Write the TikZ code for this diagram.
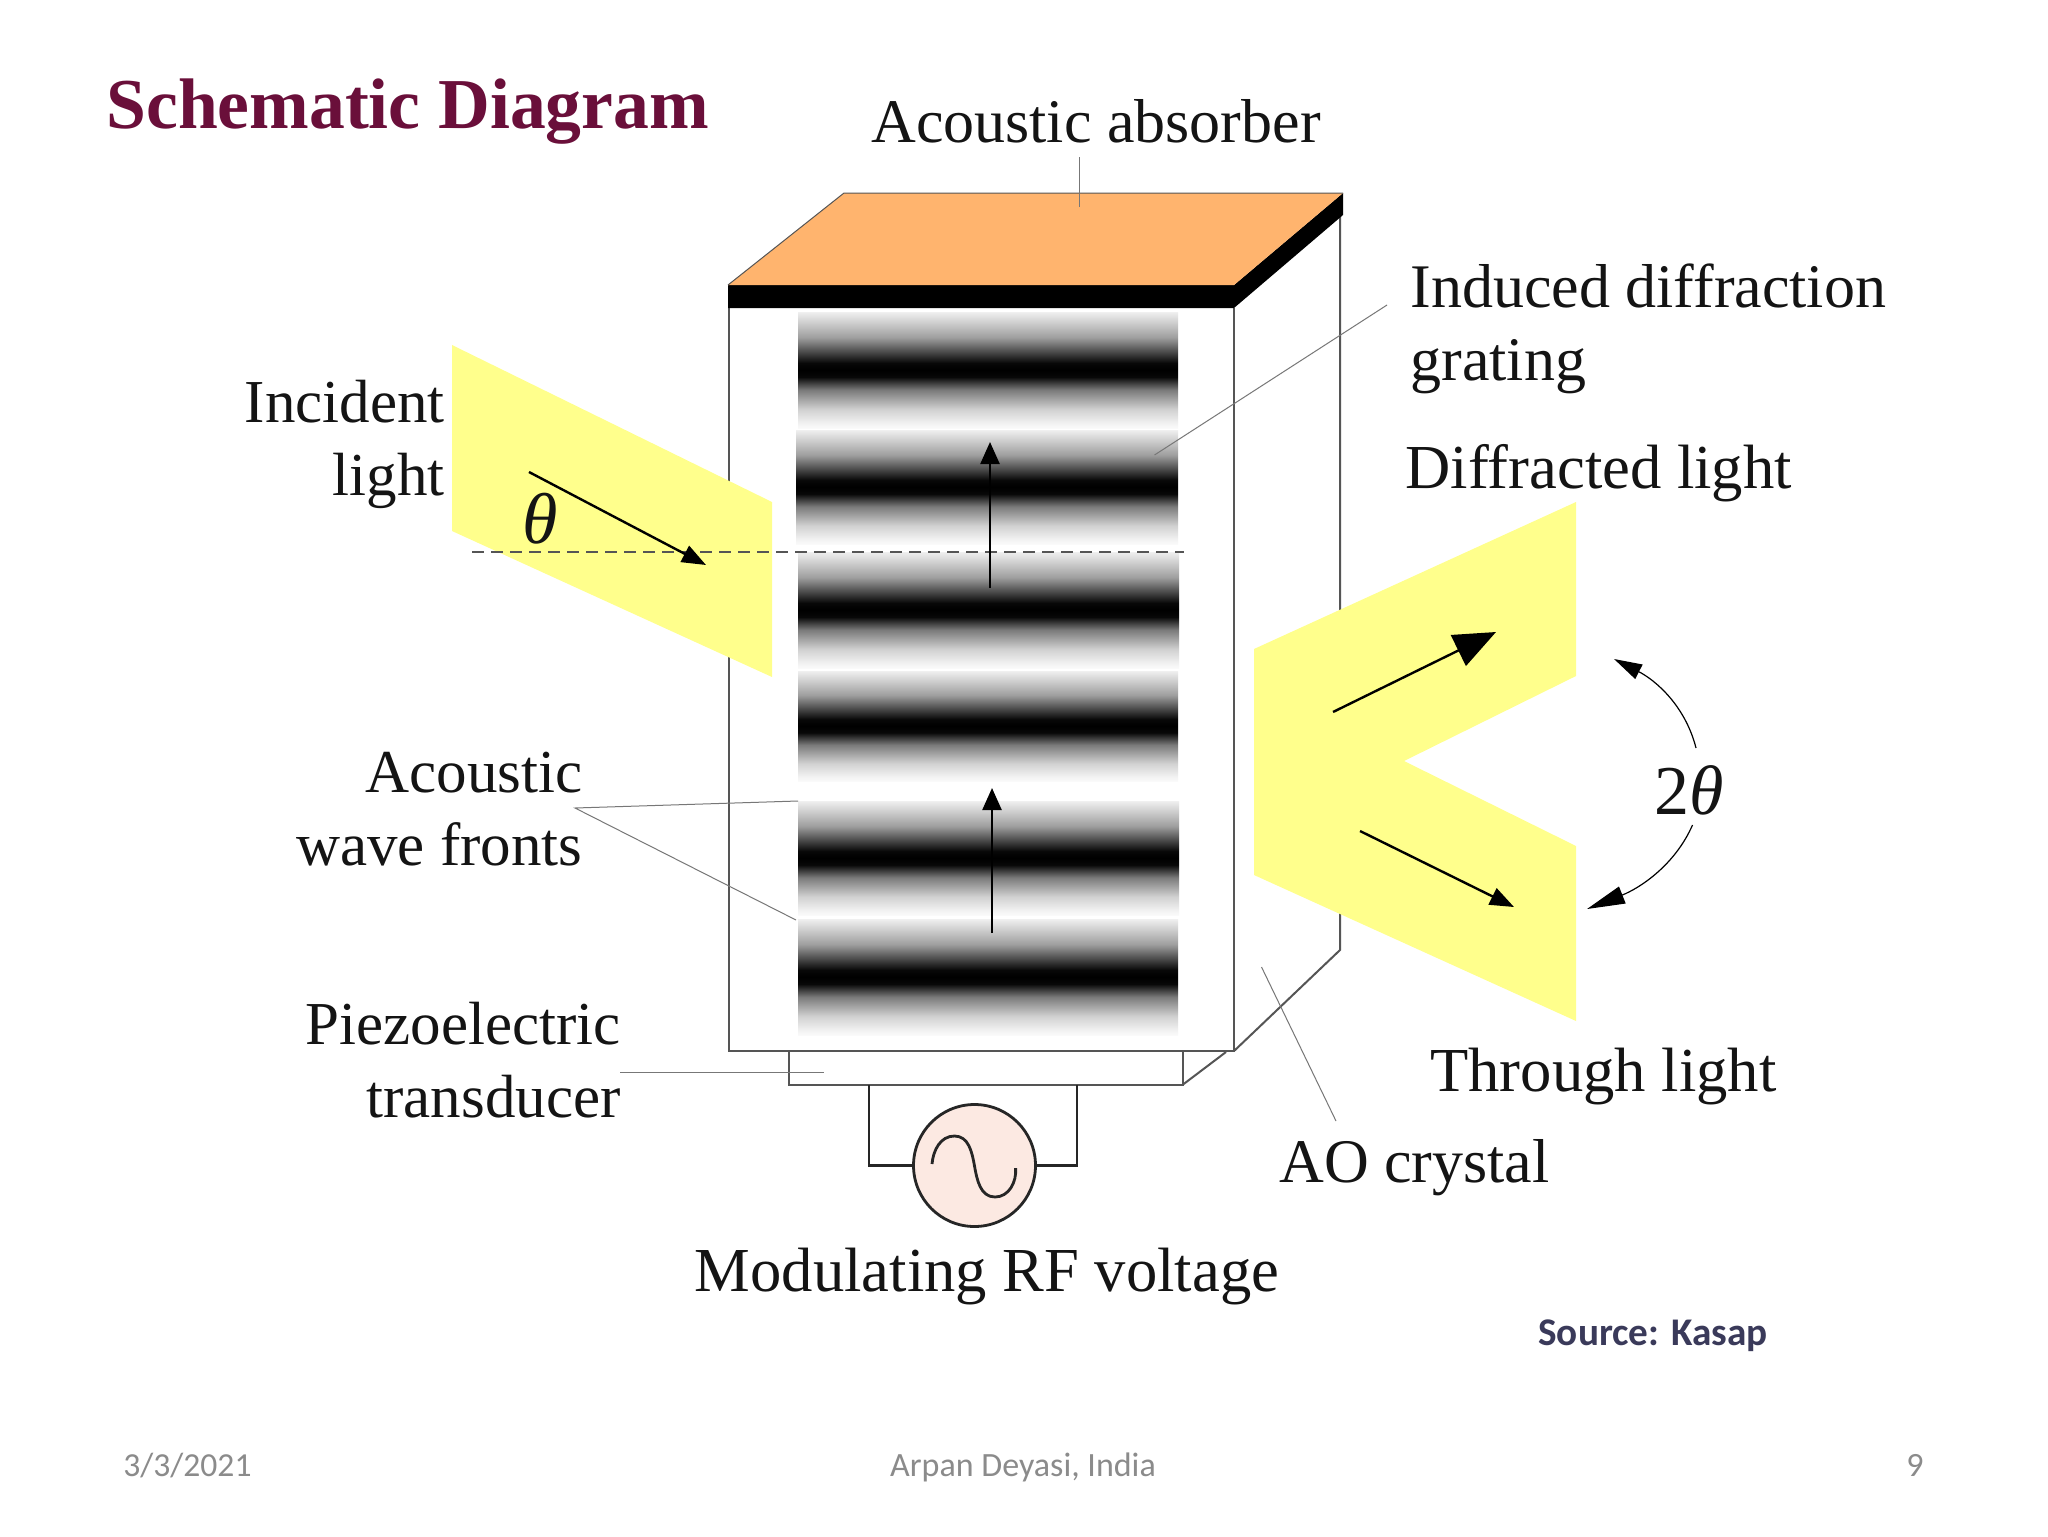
\documentclass[tikz,border=0pt]{standalone}
\usepackage{fontspec}
\setmainfont{Liberation Serif}
\newfontfamily\slidefont{Carlito}
\usetikzlibrary{arrows.meta}
\definecolor{beamyellow}{HTML}{FFFF8C}
\definecolor{absorber}{HTML}{FFB46E}
\definecolor{titlered}{HTML}{6A0F3A}
\definecolor{footgrey}{HTML}{8B8B8B}
\definecolor{sourceblue}{HTML}{3A3A5A}
\definecolor{rfpink}{HTML}{FCE9E2}
\definecolor{edgegrey}{HTML}{555555}
\definecolor{leadgrey}{HTML}{777777}
\pgfdeclareverticalshading{gband}{100bp}{%
 color(0bp)=(white!98!black); color(25bp)=(white!98!black);
 color(27bp)=(white!95!black); color(33bp)=(white!82!black); color(41.4bp)=(white!48!black);
 color(47bp)=(white!3!black); color(50bp)=(black); color(53bp)=(white!3!black);
 color(58.6bp)=(white!33!black); color(64bp)=(white!62!black);
 color(75bp)=(white!94!black); color(100bp)=(white!94!black)}
\newcommand{\gratingband}[4]{\shade[shading=gband] (#1,#3) rectangle (#2,#4);}
\tikzset{
 label/.style={font=\fontsize{31}{36.5}\selectfont,inner sep=0pt,text=black!92},
 leftlabel/.style={label,font=\fontsize{30.5}{36.5}\selectfont},
 widelabel/.style={label,font=\fontsize{31.3}{36.5}\selectfont},
 beam/.style={fill=beamyellow,draw=none},
 edge/.style={draw=edgegrey,line width=1pt},
 leader/.style={draw=leadgrey,line width=.5pt},
 wire/.style={draw=black!85,line width=1.4pt},
 thinarrow/.style={draw=black,line width=1.2pt},
 sweep/.style={draw=black,line width=.6pt},
}
\begin{document}
\begin{tikzpicture}[x=0.5pt,y=-0.5pt]
\useasboundingbox (0,0) rectangle (2048,1536);
\fill[white] (0,0) rectangle (2048,1536);

% crystal
\draw[edge] (729,308) -- (729,1051) -- (1234,1051) -- (1234,308);
\draw[edge] (1340,215) -- (1340,950) -- (1234,1051);
\draw[edge] (789,1051) -- (789,1084.5) -- (1183,1084.5) -- (1183,1051);
\draw[edge] (1183,1084.5) -- (1226,1052);

% grating
\gratingband{798}{1178}{312}{428}
\gratingband{796}{1178}{430}{544}
\gratingband{798}{1179}{552}{668}
\gratingband{798}{1178}{671}{781}
\gratingband{798}{1179}{801}{915}
\gratingband{798}{1178}{919}{1035}

% absorber
\fill[black] (728,285) -- (1234,285) -- (1343,193) -- (1343,215) -- (1234,308) -- (728,308) -- cycle;
\fill[absorber] (844,193) -- (1343,193) -- (1234,285) -- (728,285) -- cycle;
\draw[edgegrey,line width=.5pt] (728,285) -- (844,193) -- (1343,193);

% beams
\fill[beam] (452,345) -- (772,502) -- (772,677) -- (452,531) -- cycle;
\fill[beam] (1254,649) -- (1576,502) -- (1576,676) -- (1404,761) -- (1576,846) -- (1576,1021) -- (1254,875) -- cycle;

% normal
\draw[edgegrey,dashed,line width=.6pt,dash pattern=on 6pt off 3.5pt] (472,552) -- (1184,552);

% labels
\node[label,anchor=base] (absorbertext) at (1096,142) {Acoustic absorber};
\node[label,anchor=west,align=left] (gratingtext) at (1410,329) {Induced diffraction\\grating};
\node[widelabel,anchor=base west] (diffractedtext) at (1405,488.5) {Diffracted light};
\node[widelabel,anchor=base west] (throughtext) at (1430,1091.5) {Through light};
\node[label,anchor=base west] (aotext) at (1279,1182) {AO crystal};
\node[widelabel,anchor=base] (rftext) at (987,1291) {Modulating RF voltage};
\node[leftlabel,anchor=east,align=right] (incidenttext) at (445,444) {Incident\\light};
\node[leftlabel,anchor=east,align=right] (wavetext) at (583,809) {Acoustic\\wave fronts};
\node[leftlabel,anchor=east,align=right] (piezotext) at (621,1060) {Piezoelectric\\transducer};
\node[label,font=\fontsize{36}{38}\selectfont] (theta) at (540,519) {\textit{θ}};
\node[label,font=\fontsize{35}{38}\selectfont] (twotheta) at (1689,790) {2\textit{θ}};

\node[anchor=base west,inner sep=0pt,text=titlered,font=\fontsize{35.8}{40}\selectfont\bfseries] (title) at (106,128) {Schematic Diagram};
\node[anchor=base west,inner sep=0pt,text=sourceblue,font=\fontsize{19.6}{24}\selectfont\slidefont\bfseries] (source) at (1538,1345) {Source: Kasap};
\node[anchor=base west,inner sep=0pt,text=footgrey,font=\fontsize{16.8}{20}\selectfont\slidefont] (date) at (123,1476) {3/3/2021};
\node[anchor=base,inner sep=0pt,text=footgrey,font=\fontsize{17}{20}\selectfont\slidefont] (author) at (1023,1476) {Arpan Deyasi, India};
\node[anchor=base east,inner sep=0pt,text=footgrey,font=\fontsize{17}{20}\selectfont\slidefont] (pagenum) at (1924,1476) {9};

% leader lines
\coordinate (absorberA) at (1079.5,157);
\coordinate (absorberB) at (1079.5,207);
\coordinate (gratingA) at (1387,305);
\coordinate (gratingB) at (1154.5,455);
\coordinate (waveA) at (575,808);
\coordinate (waveB) at (798,801);
\coordinate (waveC) at (796,920);
\coordinate (piezoA) at (620,1072);
\coordinate (piezoB) at (824,1072);
\coordinate (aoA) at (1261.5,967);
\coordinate (aoB) at (1336,1121);
\draw[leader] (absorberA) -- (absorberB);
\draw[leader] (gratingA) -- (gratingB);
\draw[leader] (waveB) -- (waveA) -- (waveC);
\draw[leader] (piezoA) -- (piezoB);
\draw[leader] (aoA) -- (aoB);

% acoustic direction arrows
\coordinate (upA) at (990,588);
\coordinate (upB) at (990,442);
\coordinate (upC) at (992,933);
\coordinate (upD) at (992,788);
\draw[thinarrow,-{Triangle[length=11pt,width=9.5pt]}] (upA) -- (upB);
\draw[thinarrow,-{Triangle[length=11pt,width=9.5pt]}] (upC) -- (upD);

% light rays
\coordinate (incA) at (529,472);
\coordinate (incB) at (706,565);
\coordinate (difA) at (1333,712);
\coordinate (difB) at (1496,632);
\coordinate (thrA) at (1360,831);
\coordinate (thrB) at (1514,907);
\draw[thinarrow,-{Triangle[length=12pt,width=9pt]}] (incA) -- (incB);
\draw[thinarrow,-{Triangle[length=21pt,width=17pt]}] (difA) -- (difB);
\draw[thinarrow,-{Triangle[length=12pt,width=9pt]}] (thrA) -- (thrB);

% 2 theta sweep
\coordinate (swA) at (1696,748);
\coordinate (swB) at (1614,659);
\coordinate (swC) at (1692.5,825);
\coordinate (swD) at (1587,909);
\draw[sweep,-{Triangle[length=14pt,width=8pt]}] (swA) .. controls (1685,705) and (1655,680) .. (swB);
\draw[sweep,-{Triangle[length=19pt,width=9pt]}] (swC) .. controls (1675,865) and (1640,888) .. (swD);

% RF source
\node[draw=black!85,line width=1.4pt,fill=rfpink,circle,minimum size=61pt,inner sep=0pt] (rf) at (974.5,1165.5) {};
\coordinate (wireL) at (869,1084.5);
\coordinate (wireR) at (1077,1084.5);
\draw[wire] (rf.west) -| (wireL);
\draw[wire] (rf.east) -| (wireR);
\draw[draw=black!85,line width=1.4pt] (932,1164) to[out=85,in=180] (954.5,1136) to[out=0,in=100] (974.5,1166) to[out=-80,in=180] (995,1197) to[out=0,in=-85] (1015.6,1168);
\end{tikzpicture}
\end{document}
